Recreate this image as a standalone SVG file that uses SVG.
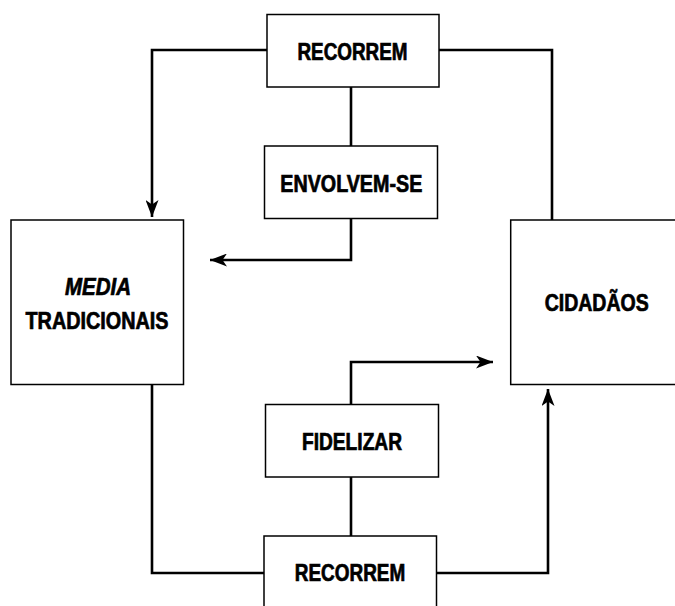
<svg xmlns="http://www.w3.org/2000/svg" width="675" height="606" viewBox="0 0 675 606">
<style>
.box{fill:#fff;stroke:#000;stroke-width:1.5}
.lbl{font-family:"Liberation Sans",Arial,sans-serif;font-weight:bold;font-size:23px;fill:#000;stroke:#000;stroke-width:0.7}
.conn{fill:none;stroke:#000;stroke-width:2.6}
</style>
<defs>
<marker id="ah" viewBox="0 0 17 13" refX="17" refY="6.5" markerWidth="17" markerHeight="13" markerUnits="userSpaceOnUse" orient="auto">
<path d="M0,0 L17,6.5 L0,13 L4.5,6.5 Z" fill="#000"/>
</marker>
</defs>
<rect width="675" height="606" fill="#fff"/>
<g id="connectors">
<path class="conn" d="M267,50 H152 V217" marker-end="url(#ah)"/>
<path class="conn" d="M439,50 H552 V220"/>
<path class="conn" d="M351,87 V146"/>
<path class="conn" d="M351,218 V260 H210" marker-end="url(#ah)"/>
<path class="conn" d="M351,404 V362 H493" marker-end="url(#ah)"/>
<path class="conn" d="M351,477 V536"/>
<path class="conn" d="M152,384 V573 H264"/>
<path class="conn" d="M436,573 H548 V389" marker-end="url(#ah)"/>
</g>
<g id="recorrem-top">
<rect class="box" x="267" y="14.5" width="172" height="72.5"/>
<text class="lbl" x="352.5" y="59.5" text-anchor="middle" textLength="110" lengthAdjust="spacingAndGlyphs">RECORREM</text>
</g>
<g id="envolvem">
<rect class="box" x="264.5" y="146" width="173" height="72.5"/>
<text class="lbl" x="351.3" y="191.5" text-anchor="middle" textLength="142" lengthAdjust="spacingAndGlyphs">ENVOLVEM-SE</text>
</g>
<g id="media">
<rect class="box" x="11" y="220" width="172.5" height="164.5"/>
<text class="lbl" x="98" y="295" text-anchor="middle" font-style="italic" textLength="66" lengthAdjust="spacingAndGlyphs">MEDIA</text>
<text class="lbl" x="97" y="328.5" text-anchor="middle" textLength="143" lengthAdjust="spacingAndGlyphs">TRADICIONAIS</text>
</g>
<g id="cidadaos">
<rect class="box" x="510.7" y="220" width="170" height="164.5"/>
<text class="lbl" x="596.7" y="311" text-anchor="middle" textLength="104" lengthAdjust="spacingAndGlyphs">CIDADÃOS</text>
</g>
<g id="fidelizar">
<rect class="box" x="265.5" y="404.5" width="173" height="72.5"/>
<text class="lbl" x="352" y="450" text-anchor="middle" textLength="100" lengthAdjust="spacingAndGlyphs">FIDELIZAR</text>
</g>
<g id="recorrem-bottom">
<rect class="box" x="264" y="536" width="172.5" height="80"/>
<text class="lbl" x="350" y="580.5" text-anchor="middle" textLength="110.5" lengthAdjust="spacingAndGlyphs">RECORREM</text>
</g>
</svg>
